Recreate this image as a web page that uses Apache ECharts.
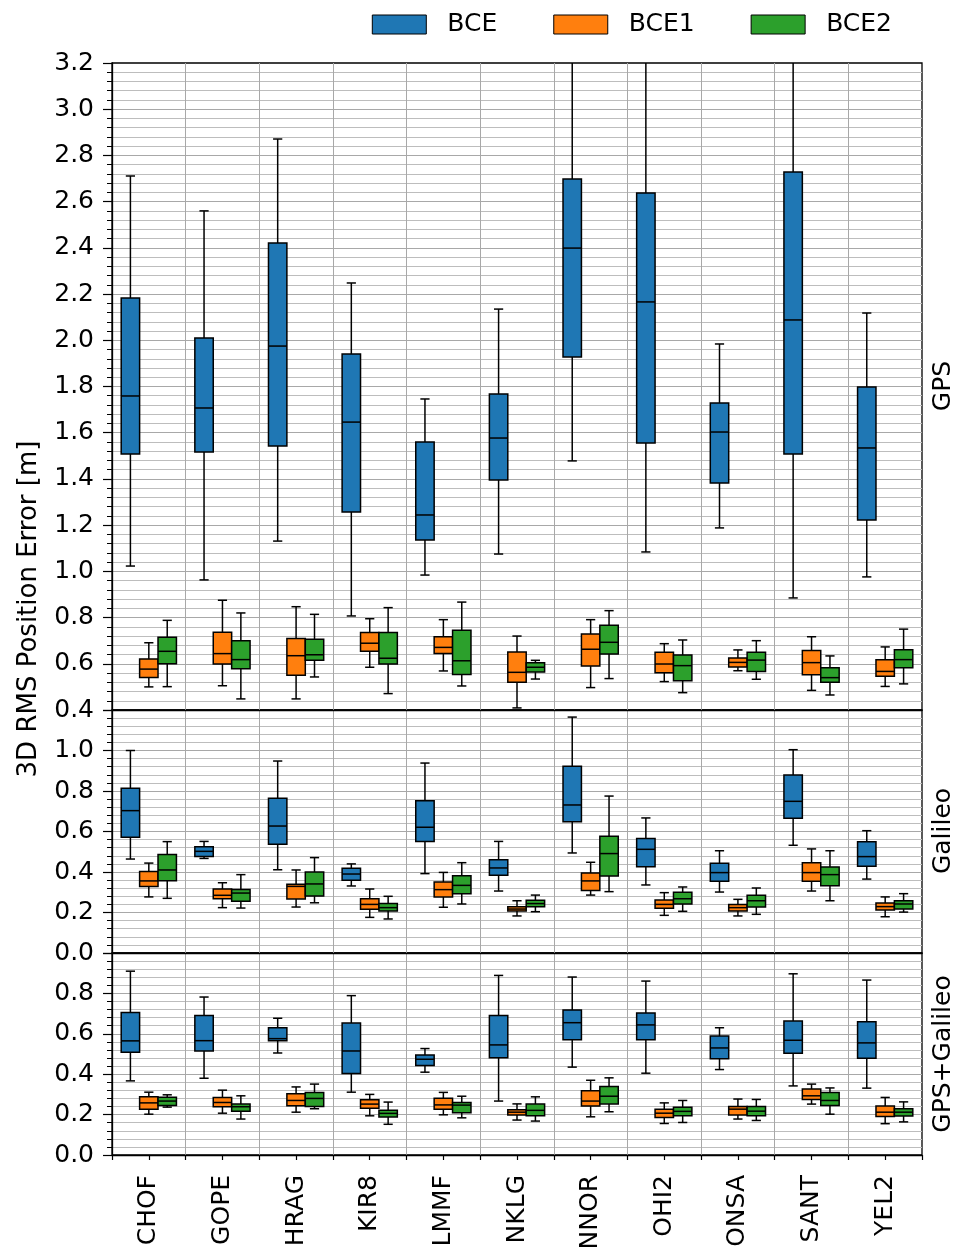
<!DOCTYPE html>
<html>
<head>
<meta charset="utf-8">
<script src="https://cdn.jsdelivr.net/npm/echarts@6/dist/echarts.min.js"></script>
<style>html,body{margin:0;padding:0;background:#fff;}#chart{width:968px;height:1249px;}</style>
</head>
<body>
<div id="chart"></div>
<script>
// ---------- DATA ----------
const categories = ['CHOF','GOPE','HRAG','KIR8','LMMF','NKLG','NNOR','OHI2','ONSA','SANT','YEL2'];
const seriesNames = ['BCE','BCE1','BCE2'];
const panelNames = ['GPS','Galileo','GPS+Galileo'];
// each item: [min, Q1, median, Q3, max]
const gpsBCE = [
 [1.023,1.508,1.759,2.183,2.711],
 [0.963,1.517,1.707,2.010,2.560],
 [1.131,1.543,1.975,2.421,2.871],
 [0.807,1.257,1.646,1.941,2.248],
 [0.984,1.136,1.244,1.560,1.746],
 [1.075,1.395,1.577,1.768,2.135],
 [1.478,1.928,2.399,2.698,3.45],
 [1.084,1.556,2.166,2.637,3.50],
 [1.188,1.382,1.603,1.729,1.984],
 [0.885,1.508,2.088,2.728,3.60],
 [0.976,1.222,1.534,1.798,2.118]
];
const gpsBCE1 = [
 [0.500,0.541,0.577,0.621,0.691],
 [0.505,0.599,0.644,0.736,0.875],
 [0.448,0.550,0.635,0.709,0.847],
 [0.585,0.654,0.689,0.735,0.795],
 [0.569,0.644,0.671,0.717,0.791],
 [0.409,0.520,0.563,0.651,0.720],
 [0.497,0.590,0.663,0.729,0.791],
 [0.523,0.561,0.599,0.650,0.687],
 [0.570,0.586,0.606,0.625,0.660],
 [0.485,0.553,0.605,0.657,0.717],
 [0.502,0.546,0.567,0.618,0.673]
];
const gpsBCE2 = [
 [0.501,0.600,0.654,0.715,0.788],
 [0.448,0.579,0.618,0.700,0.820],
 [0.543,0.615,0.639,0.706,0.814],
 [0.471,0.599,0.624,0.735,0.843],
 [0.504,0.554,0.613,0.745,0.867],
 [0.534,0.564,0.585,0.605,0.615],
 [0.536,0.642,0.693,0.767,0.830],
 [0.475,0.527,0.592,0.638,0.703],
 [0.533,0.567,0.616,0.650,0.700],
 [0.465,0.520,0.540,0.583,0.634],
 [0.513,0.583,0.618,0.661,0.750]
];
const galBCE = [
 [0.464,0.571,0.703,0.813,1.000],
 [0.467,0.477,0.502,0.525,0.551],
 [0.411,0.537,0.627,0.764,0.948],
 [0.331,0.359,0.390,0.418,0.440],
 [0.392,0.551,0.621,0.752,0.938],
 [0.306,0.384,0.420,0.461,0.551],
 [0.494,0.648,0.731,0.922,1.165],
 [0.336,0.426,0.512,0.565,0.667],
 [0.301,0.354,0.397,0.443,0.505],
 [0.532,0.665,0.749,0.879,1.004],
 [0.365,0.428,0.476,0.550,0.604]
];
const galBCE1 = [
 [0.277,0.329,0.356,0.403,0.444],
 [0.224,0.268,0.285,0.316,0.347],
 [0.227,0.267,0.329,0.339,0.410],
 [0.176,0.216,0.240,0.268,0.316],
 [0.226,0.277,0.313,0.351,0.398],
 [0.183,0.207,0.217,0.229,0.258],
 [0.286,0.309,0.356,0.395,0.448],
 [0.186,0.221,0.240,0.262,0.298],
 [0.183,0.207,0.224,0.239,0.265],
 [0.306,0.354,0.397,0.446,0.514],
 [0.179,0.212,0.229,0.247,0.277]
];
const galBCE2 = [
 [0.270,0.357,0.410,0.486,0.550],
 [0.222,0.255,0.296,0.314,0.387],
 [0.248,0.281,0.341,0.400,0.471],
 [0.168,0.207,0.224,0.245,0.280],
 [0.242,0.293,0.334,0.382,0.446],
 [0.204,0.229,0.244,0.260,0.286],
 [0.303,0.380,0.491,0.576,0.775],
 [0.206,0.242,0.268,0.300,0.326],
 [0.191,0.227,0.258,0.285,0.321],
 [0.258,0.332,0.387,0.425,0.505],
 [0.202,0.217,0.242,0.258,0.293]
];
const ggBCE = [
 [0.367,0.509,0.565,0.705,0.910],
 [0.380,0.515,0.566,0.690,0.782],
 [0.505,0.566,0.576,0.630,0.677],
 [0.311,0.403,0.515,0.653,0.789],
 [0.410,0.443,0.474,0.495,0.527],
 [0.267,0.482,0.545,0.690,0.889],
 [0.435,0.571,0.655,0.718,0.881],
 [0.405,0.571,0.644,0.703,0.861],
 [0.423,0.477,0.530,0.589,0.630],
 [0.342,0.504,0.568,0.663,0.897],
 [0.331,0.479,0.555,0.660,0.866]
];
const ggBCE1 = [
 [0.202,0.226,0.258,0.288,0.311],
 [0.207,0.239,0.260,0.285,0.321],
 [0.212,0.244,0.270,0.303,0.337],
 [0.194,0.232,0.252,0.273,0.300],
 [0.199,0.226,0.248,0.281,0.310],
 [0.173,0.198,0.212,0.224,0.253],
 [0.189,0.242,0.267,0.318,0.370],
 [0.156,0.186,0.207,0.226,0.258],
 [0.178,0.198,0.227,0.240,0.277],
 [0.252,0.275,0.293,0.327,0.351],
 [0.155,0.191,0.212,0.242,0.285]
];
const ggBCE2 = [
 [0.237,0.245,0.267,0.286,0.298],
 [0.178,0.216,0.239,0.252,0.293],
 [0.229,0.240,0.280,0.310,0.351],
 [0.152,0.188,0.206,0.221,0.262],
 [0.184,0.209,0.247,0.260,0.291],
 [0.168,0.194,0.221,0.252,0.288],
 [0.214,0.253,0.291,0.339,0.382],
 [0.161,0.194,0.216,0.237,0.270],
 [0.171,0.194,0.217,0.240,0.275],
 [0.202,0.245,0.270,0.310,0.332],
 [0.164,0.193,0.212,0.229,0.263]
];
const yMins = [0.4, 0.0, 0.0];
const yMaxs = [3.2, 1.2, 1.0];
const yStep = 0.2;

// ---------- STYLE / BUILD ----------
const colors = ['#1f77b4','#ff7f0e','#2ca02c'];
const FONT = 'DejaVu Sans';
const panelData = [[gpsBCE, gpsBCE1, gpsBCE2],[galBCE, galBCE1, galBCE2],[ggBCE, ggBCE1, ggBCE2]];
const gridDefs = [{top:63,height:647},{top:710,height:243},{top:953,height:202}];

function makeRender(k, color) {
  return function (params, api) {
    const ci = api.value(0);
    const band = api.size([1, 0])[0];
    const w = band * 0.25;
    const cx = api.coord([ci, 0])[0] + (k - 1) * w;
    const cs = params.coordSys;
    const top = cs.y, bot = cs.y + cs.height;
    const raw = j => api.coord([ci, api.value(j)])[1];
    const cl = y => Math.max(top, Math.min(bot, y));
    const yMin = raw(1), yQ1 = cl(raw(2)), yMed = raw(3), yQ3 = cl(raw(4)), yMax = raw(5);
    const half = w / 4;
    const ls = {stroke:'#000', lineWidth:1.5};
    const ch = [];
    ch.push({type:'line', shape:{x1:cx,y1:cl(yMin),x2:cx,y2:yQ1}, style:ls});
    ch.push({type:'line', shape:{x1:cx,y1:yQ3,x2:cx,y2:cl(yMax)}, style:ls});
    if (yMin <= bot && yMin >= top) ch.push({type:'line', shape:{x1:cx-half,y1:yMin,x2:cx+half,y2:yMin}, style:ls});
    if (yMax >= top && yMax <= bot) ch.push({type:'line', shape:{x1:cx-half,y1:yMax,x2:cx+half,y2:yMax}, style:ls});
    ch.push({type:'rect', shape:{x:cx - w/2, y:yQ3, width:w, height:yQ1 - yQ3}, style:{fill:color, stroke:'#000', lineWidth:1.5}});
    ch.push({type:'line', shape:{x1:cx - w/2, y1:yMed, x2:cx + w/2, y2:yMed}, style:{stroke:'#000', lineWidth:1.5}});
    return {type:'group', children: ch};
  };
}

const grids = [], xAxes = [], yAxes = [], series = [];
gridDefs.forEach((g, i) => {
  grids.push({left:112, right:46, top:g.top, height:g.height, show:true, borderColor:'#000', borderWidth:1.3,
    backgroundColor:'transparent', outerBoundsMode:'none', containLabel:false});
  const last = i === 2;
  xAxes.push({
    type:'category', gridIndex:i, data:categories, boundaryGap:true,
    axisLine:{show:true, lineStyle:{color:'#000', width:1.3}},
    axisTick:{show:last, length:5, lineStyle:{color:'#000', width:1.2}},
    axisLabel:{show:last, rotate:90, margin:20, fontSize:25, color:'#000', fontFamily:FONT},
    splitLine:{show:true, showMinLine:false, showMaxLine:false, lineStyle:{color:'#a8a8a8', width:1}}
  });
  yAxes.push({
    type:'value', gridIndex:i, min:yMins[i], max:yMaxs[i], interval:yStep,
    axisLine:{show:true, lineStyle:{color:'#000', width:1.3}},
    axisTick:{show:true, length:9, lineStyle:{color:'#000', width:1.2}},
    minorTick:{show:true, splitNumber:5, length:5, lineStyle:{color:'#000', width:1}},
    axisLabel:{showMaxLabel: i === 0, margin:18, fontSize:25, color:'#000', fontFamily:FONT,
      formatter: v => (i !== 0 && Math.abs(v - yMaxs[i]) < 1e-9) ? '' : v.toFixed(1)},
    splitLine:{show:true, showMinLine:false, showMaxLine:false, lineStyle:{color:'#a8a8a8', width:1}},
    minorSplitLine:{show:true, lineStyle:{color:'#bdbdbd', width:1}}
  });
  panelData[i].forEach((arr, k) => {
    series.push({
      type:'custom', name:seriesNames[k], xAxisIndex:i, yAxisIndex:i,
      itemStyle:{color:colors[k]},
      encode:{x:0, y:[1,2,3,4,5]},
      data: arr.map((d, ci) => [ci].concat(d)),
      renderItem: makeRender(k, colors[k]),
      z: 5
    });
  });
});
// centre ticks under labels on the bottom panel
xAxes.push({
  type:'category', gridIndex:2, data:categories, boundaryGap:true, position:'bottom',
  axisLine:{show:false}, axisLabel:{show:false}, splitLine:{show:false},
  axisTick:{show:true, alignWithLabel:true, length:5, lineStyle:{color:'#000', width:1.2}}
});

const option = {
  backgroundColor:'#fff',
  animation:false,
  legend:{
    data:seriesNames, right:71, top:7, icon:'rect', itemWidth:54, itemHeight:19, itemGap:56,
    itemStyle:{borderColor:'#000', borderWidth:1},
    textStyle:{fontSize:25, color:'#000', fontFamily:FONT, padding:[0,0,0,16]}
  },
  grid:grids, xAxis:xAxes, yAxis:yAxes, series:series,
  graphic:[
    {type:'text', x:29, y:609, rotation:Math.PI/2, style:{text:'3D RMS Position Error [m]', font:'26px "DejaVu Sans"', fill:'#000', align:'center', verticalAlign:'middle'}},
    {type:'text', x:943, y:386, rotation:Math.PI/2, style:{text:panelNames[0], font:'25px "DejaVu Sans"', fill:'#000', align:'center', verticalAlign:'middle'}},
    {type:'text', x:943, y:831, rotation:Math.PI/2, style:{text:panelNames[1], font:'25px "DejaVu Sans"', fill:'#000', align:'center', verticalAlign:'middle'}},
    {type:'text', x:943, y:1054, rotation:Math.PI/2, style:{text:panelNames[2], font:'25px "DejaVu Sans"', fill:'#000', align:'center', verticalAlign:'middle'}}
  ]
};
const chart = echarts.init(document.getElementById('chart'), null, {renderer:'canvas'});
chart.setOption(option);
</script>
</body>
</html>
